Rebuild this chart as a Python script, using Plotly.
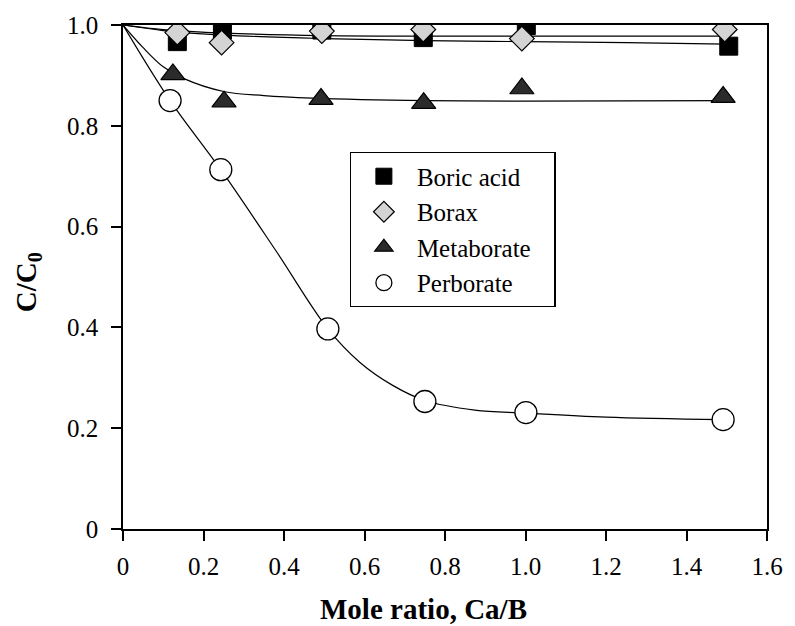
import plotly.graph_objects as go

# Measured points: C/C0 versus Ca/B mole ratio
boric_x = [0.135, 0.247, 0.494, 0.746, 1.002, 1.505]
boric_y = [0.967, 0.990, 0.990, 0.975, 0.999, 0.958]

borax_x = [0.135, 0.245, 0.494, 0.746, 0.991, 1.495]
borax_y = [0.985, 0.965, 0.988, 0.991, 0.973, 0.991]

meta_x = [0.124, 0.251, 0.492, 0.747, 0.991, 1.491]
meta_y = [0.902, 0.848, 0.853, 0.845, 0.874, 0.857]

perb_x = [0.117, 0.243, 0.509, 0.750, 1.001, 1.491]
perb_y = [0.850, 0.713, 0.397, 0.253, 0.231, 0.217]

# Smoothed trend curves for each borate source
boric_fit_x = [0, 0.1, 0.25, 0.5, 0.75, 1.0, 1.25, 1.5]
boric_fit_y = [1.0, 0.989, 0.980, 0.973, 0.969, 0.967, 0.965, 0.962]

borax_fit_x = [0, 0.1, 0.25, 0.5, 0.75, 1.0, 1.25, 1.5]
borax_fit_y = [1.0, 0.991, 0.984, 0.979, 0.978, 0.978, 0.978, 0.978]

meta_fit_x = [0, 0.05, 0.1, 0.15, 0.25, 0.35, 0.47, 0.75, 1.0, 1.5]
meta_fit_y = [1.0, 0.955, 0.917, 0.894, 0.868, 0.860, 0.855, 0.850, 0.849, 0.850]

perb_fit_x = [0, 0.117, 0.243, 0.38, 0.509, 0.588, 0.67, 0.75, 0.874, 1.0, 1.2, 1.49]
perb_fit_y = [1.0, 0.850, 0.713, 0.552, 0.397, 0.331, 0.285, 0.255, 0.236, 0.230, 0.222, 0.217]

x_ticks = [0, 0.2, 0.4, 0.6, 0.8, 1.0, 1.2, 1.4, 1.6]
x_ticktext = ["0", "0.2", "0.4", "0.6", "0.8", "1.0", "1.2", "1.4", "1.6"]
y_ticks = [0, 0.2, 0.4, 0.6, 0.8, 1.0]
y_ticktext = ["0", "0.2", "0.4", "0.6", "0.8", "1.0"]

FONT = "Times New Roman"
line_style = dict(color="black", width=1.2, shape="spline", smoothing=1.0)

fig = go.Figure()

for fx, fy in [(boric_fit_x, boric_fit_y), (borax_fit_x, borax_fit_y),
               (meta_fit_x, meta_fit_y), (perb_fit_x, perb_fit_y)]:
    fig.add_trace(go.Scatter(x=fx, y=fy, mode="lines", line=line_style,
                             showlegend=False, hoverinfo="skip"))

fig.add_trace(go.Scatter(
    x=boric_x, y=boric_y, mode="markers", name="Boric acid",
    marker=dict(symbol="square", size=18, color="black",
                line=dict(color="black", width=1))))
fig.add_trace(go.Scatter(
    x=borax_x, y=borax_y, mode="markers", name="Borax",
    marker=dict(symbol="diamond", size=19, color="#d4d4d4",
                line=dict(color="black", width=1.2))))
fig.add_trace(go.Scatter(
    x=meta_x, y=meta_y, mode="markers", name="Metaborate\u00a0\u00a0\u00a0",
    marker=dict(symbol="triangle-up", size=21, color="#2b2b2b",
                line=dict(color="black", width=1.2))))
fig.add_trace(go.Scatter(
    x=perb_x, y=perb_y, mode="markers", name="Perborate",
    marker=dict(symbol="circle", size=22, color="white",
                line=dict(color="black", width=1.3))))

axis_common = dict(
    showgrid=False, zeroline=False, showline=True, linecolor="black",
    linewidth=1.5, mirror=True, ticks="outside", ticklen=10, tickwidth=1.5,
    tickcolor="black", tickfont=dict(family=FONT, size=25, color="black"),
)

fig.update_xaxes(range=[0, 1.6], tickvals=x_ticks, ticktext=x_ticktext,
                 ticklabelstandoff=4, **axis_common)
fig.update_yaxes(range=[0, 1.0], tickvals=y_ticks, ticktext=y_ticktext,
                 ticklabelstandoff=8, **axis_common)

fig.add_annotation(text="<b>Mole ratio, Ca/B</b>", xref="paper", yref="paper",
                   x=0.467, y=-0.158, xanchor="center", yanchor="middle",
                   showarrow=False,
                   font=dict(family=FONT, size=29, color="black"))
fig.add_annotation(text="<b>C/C<sub>0</sub></b>", xref="paper", yref="paper",
                   x=-0.148, y=0.489, xanchor="center", yanchor="middle",
                   textangle=-90, showarrow=False,
                   font=dict(family=FONT, size=29, color="black"))

fig.update_layout(
    width=795, height=626,
    margin=dict(l=123, r=19, t=23, b=97),
    paper_bgcolor="white", plot_bgcolor="white",
    font=dict(family=FONT, color="black", size=25),
    legend=dict(
        x=0.352, y=0.7475, xanchor="left", yanchor="top",
        bgcolor="white", bordercolor="black", borderwidth=1.2,
        font=dict(family=FONT, size=25, color="black"),
        itemwidth=56, tracegroupgap=0,
    ),
)

fig.write_html("out.html")
